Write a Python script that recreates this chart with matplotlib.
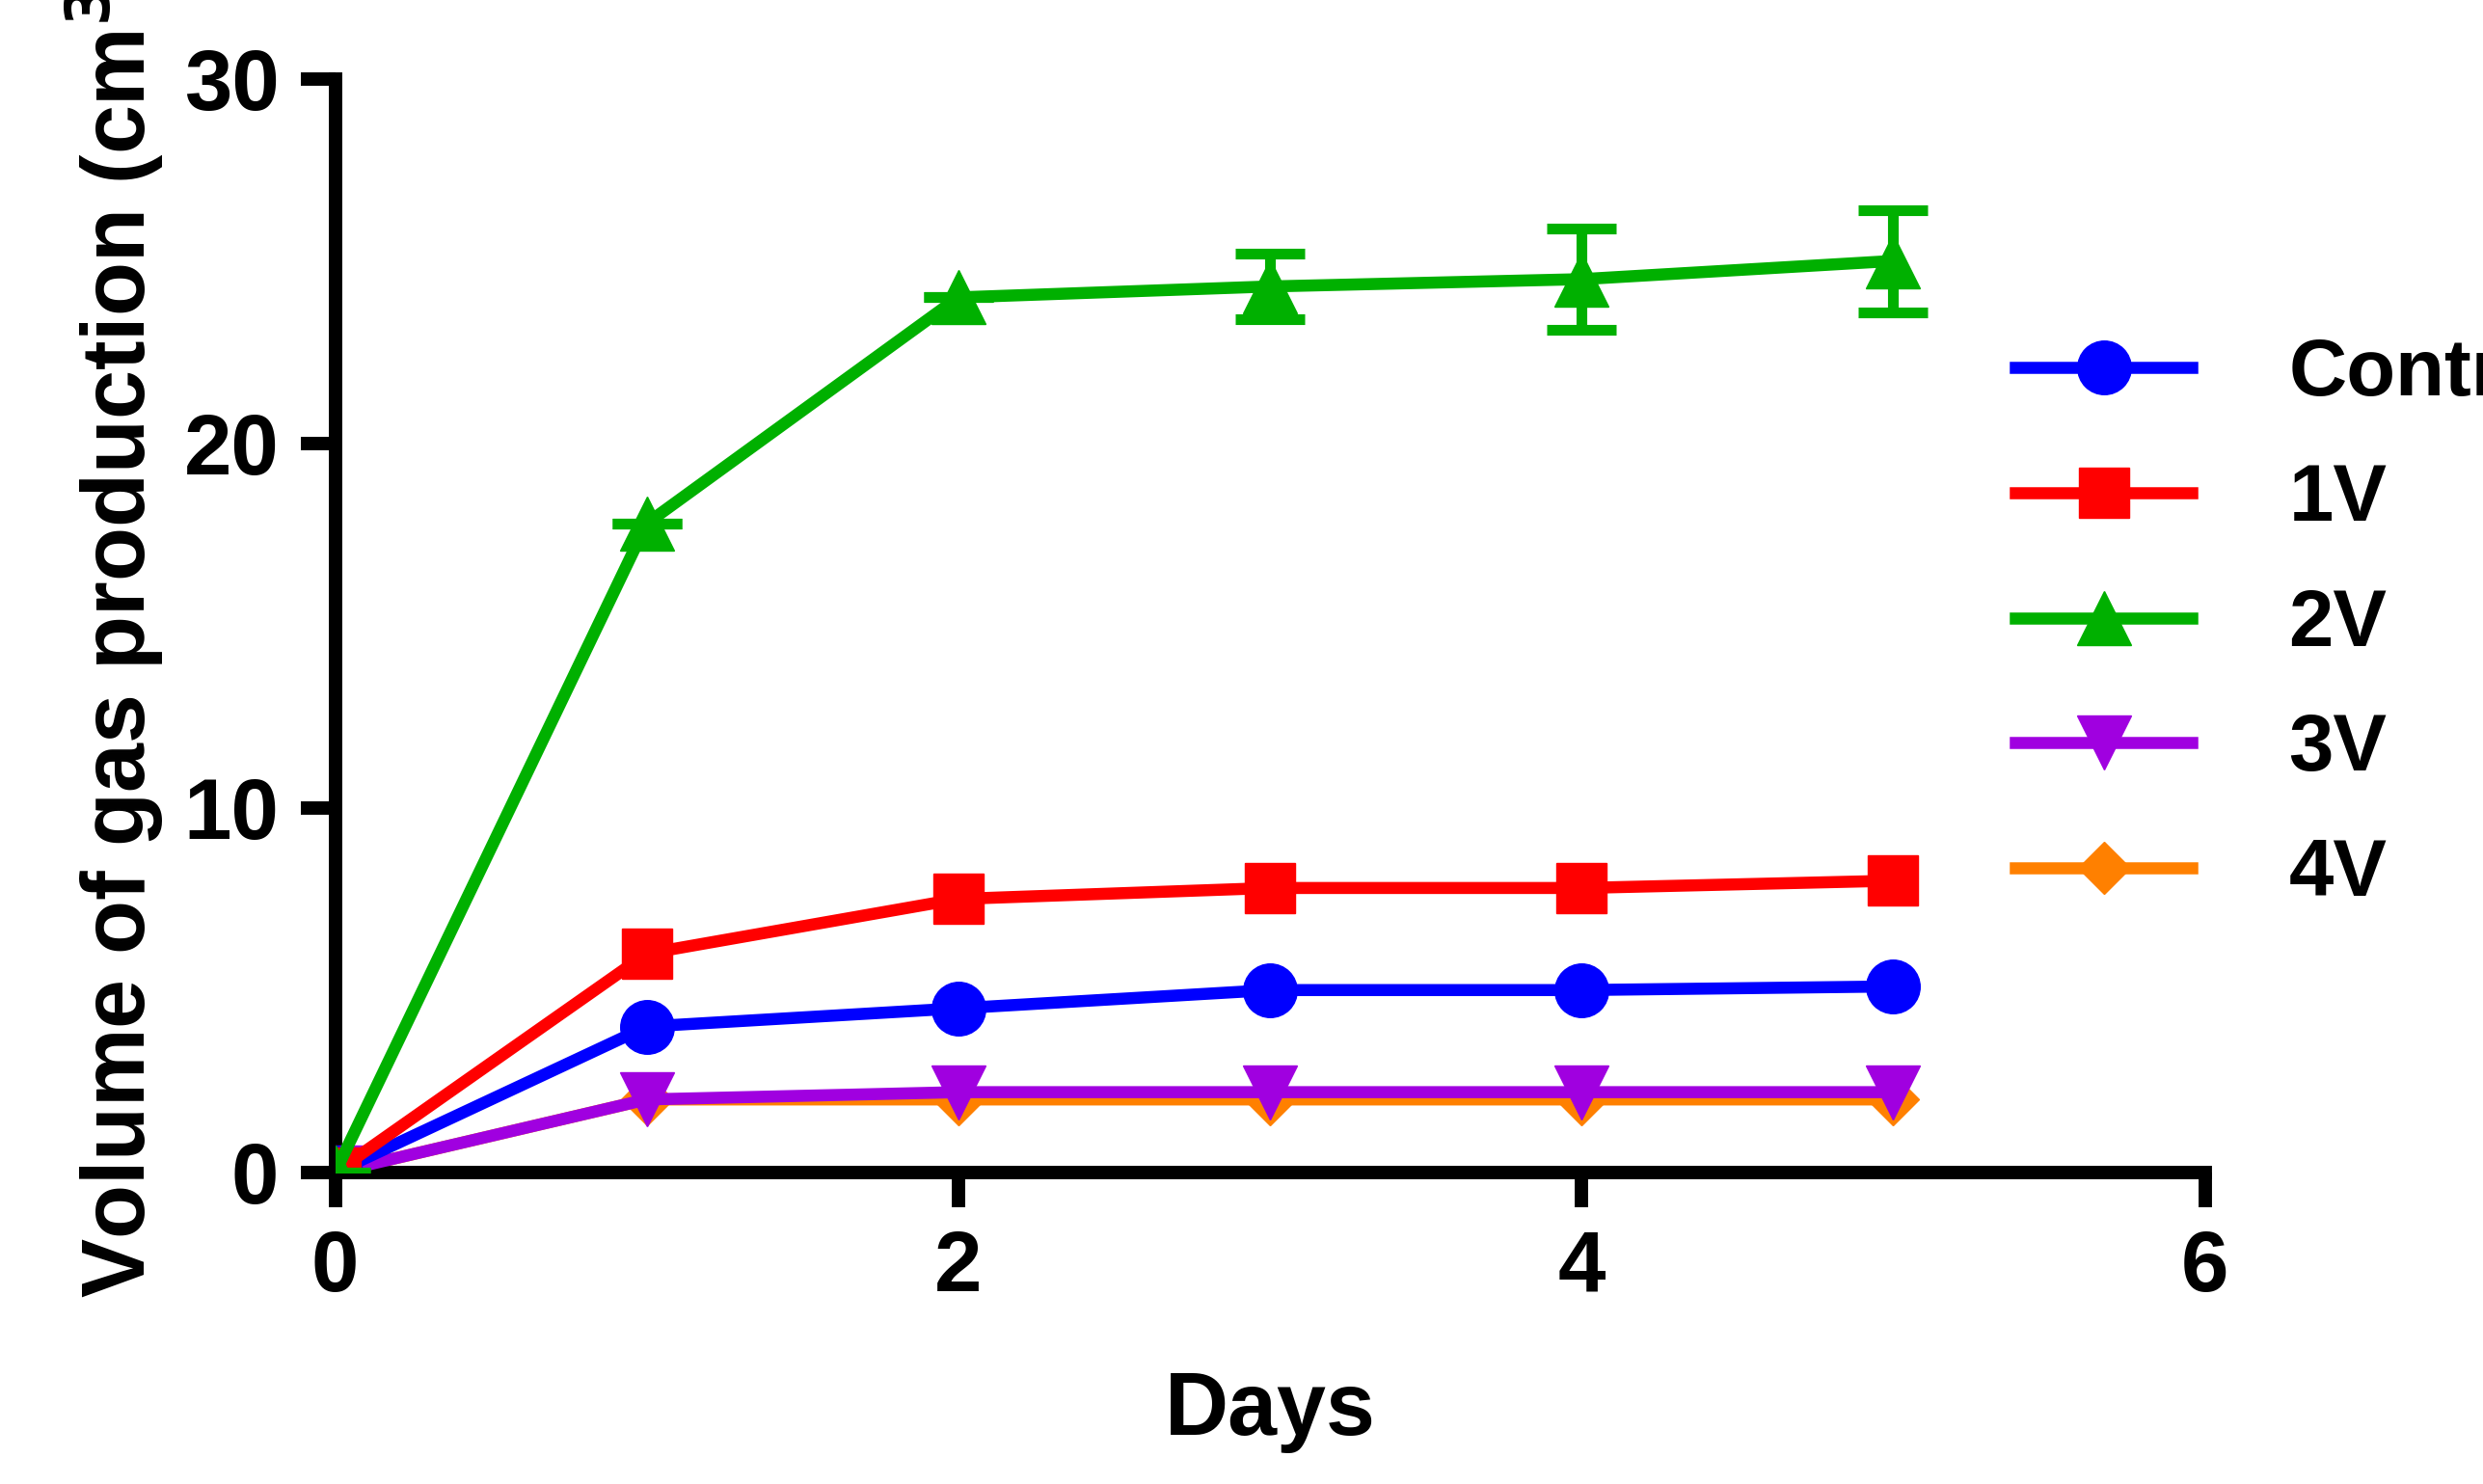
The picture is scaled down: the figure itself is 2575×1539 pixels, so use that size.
import matplotlib.pyplot as plt
from matplotlib.lines import Line2D

plt.rcParams['font.family'] = ['Liberation Sans', 'DejaVu Sans']
plt.rcParams['font.weight'] = 'bold'

days = [0, 1, 2, 3, 4, 5]
control = [0, 4.0, 4.5, 5.0, 5.0, 5.1]
v1 = [0, 6.0, 7.5, 7.8, 7.8, 8.0]
v2 = [0, 17.8, 24.0, 24.3, 24.5, 25.0]
v2_err = [0, 0, 0, 0.9, 1.4, 1.4]
v3 = [0, 2.0, 2.2, 2.2, 2.2, 2.2]
v4 = [0, 2.0, 2.0, 2.0, 2.0, 2.0]

fig = plt.figure(figsize=(25.75, 15.39), dpi=100)
ax = fig.add_axes([0.135, 0.21, 0.753, 0.737])

lw = 9
ms = 40
styles = {
    'Control': ('#0000ff', 'o', 1.0),
    '1V': ('#ff0000', 's', 0.95),
    '2V': ('#00b000', '^', 1.0),
    '3V': ('#a000e0', 'v', 1.0),
    '4V': ('#ff8000', 'D', 0.7),
}
ax.plot(days, v4, color=styles['4V'][0], marker='D', ms=ms * 0.7, lw=lw, zorder=2)
ax.plot(days, v3, color=styles['3V'][0], marker='v', ms=ms, lw=lw, zorder=3)
ax.plot(days, control, color=styles['Control'][0], marker='o', ms=ms, lw=lw, zorder=4)
ax.plot(days, v1, color=styles['1V'][0], marker='s', ms=ms * 0.95, lw=lw, zorder=5)
ax.errorbar(days, v2, yerr=v2_err, color=styles['2V'][0], marker='^', ms=ms, lw=lw,
            elinewidth=8, capsize=26, capthick=8, zorder=6)

ax.set_xlim(0, 6)
ax.set_ylim(0, 30)
ax.set_xticks([0, 2, 4, 6])
ax.set_yticks([0, 10, 20, 30])
for s in ['top', 'right']:
    ax.spines[s].set_visible(False)
for s in ['left', 'bottom']:
    ax.spines[s].set_linewidth(10)
ax.tick_params(width=10, length=26, labelsize=64, pad=16)
for lab in ax.get_xticklabels() + ax.get_yticklabels():
    lab.set_fontweight('bold')
ax.set_xlabel('Days', fontsize=66, fontweight='bold', labelpad=45)
ax.set_ylabel('Volume of gas production (cm$\\mathbf{^3}$)', fontsize=66, fontweight='bold', labelpad=14)

handles = [Line2D([], [], color=c, marker=m, ms=ms * f, lw=lw) for c, m, f in styles.values()]
leg = ax.legend(handles, list(styles.keys()), loc='upper left', bbox_to_anchor=(0.86, 0.83),
                frameon=False, fontsize=60, handlelength=2.2, labelspacing=0.62, handletextpad=1.2)
for t in leg.get_texts():
    t.set_fontweight('bold')

fig.savefig('out.png', dpi=100)
